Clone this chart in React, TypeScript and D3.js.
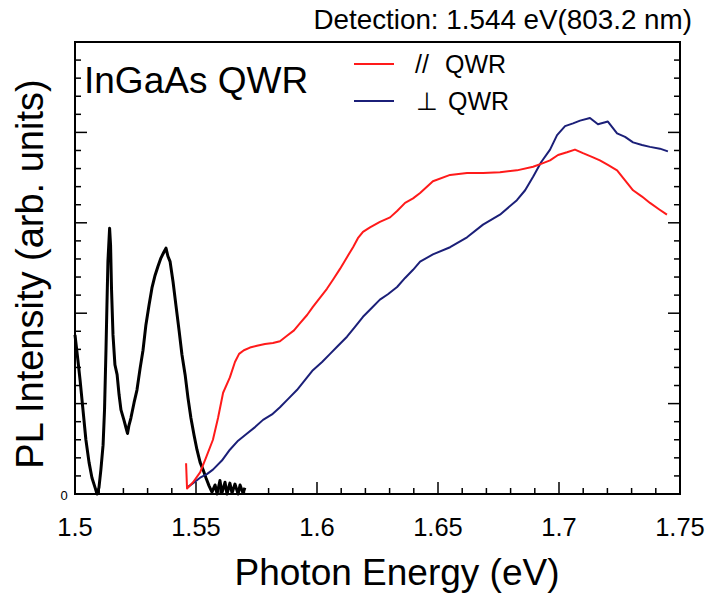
import React from "react";
import * as d3 from "d3";

const blackE = [1.5,1.5012,1.5021,1.5033,1.5045,1.5058,1.507,1.5083,1.5091,1.5099,1.5107,1.5116,1.5122,1.5128,1.5132,1.5136,1.5143,1.5147,1.5151,1.5157,1.5165,1.5174,1.5182,1.519,1.5202,1.5211,1.5217,1.5223,1.5231,1.5244,1.5256,1.5269,1.5281,1.5293,1.5306,1.5318,1.5331,1.5343,1.5355,1.5368,1.5376,1.5384,1.5393,1.5405,1.5417,1.543,1.5442,1.5455,1.5467,1.5479,1.5492,1.5504,1.5517,1.5529,1.5541,1.5554,1.5566,1.5579,1.5587,1.5599,1.5607,1.562,1.5628,1.564,1.5649,1.5661,1.5674,1.5682,1.5694,1.5702];
const blackI = [1.76,1.48,1.26,0.93,0.6,0.35,0.18,0.07,0.0,0.07,0.27,0.54,0.93,1.59,2.09,2.57,2.94,2.75,2.26,1.76,1.43,1.32,1.1,0.93,0.82,0.73,0.67,0.76,0.84,1.01,1.15,1.39,1.59,1.87,2.09,2.28,2.42,2.52,2.61,2.68,2.72,2.63,2.57,2.35,2.09,1.81,1.54,1.32,1.06,0.84,0.65,0.49,0.35,0.27,0.18,0.09,0.02,0.1,0.0,0.15,0.01,0.13,0.0,0.12,0.01,0.11,0.0,0.1,0.01,0.07];

const redE = [1.5459,1.5463,1.5488,1.5517,1.5541,1.557,1.5591,1.5612,1.564,1.5661,1.5678,1.5698,1.5723,1.5752,1.5785,1.5818,1.5847,1.5876,1.5905,1.593,1.5959,1.5983,1.6012,1.6041,1.6066,1.6095,1.6124,1.6149,1.6169,1.619,1.6219,1.626,1.6302,1.6331,1.6364,1.6397,1.6426,1.6479,1.655,1.662,1.6686,1.6756,1.6826,1.6893,1.6934,1.6963,1.6996,1.7033,1.7066,1.7099,1.7136,1.7169,1.7202,1.724,1.7273,1.7306,1.7343,1.7376,1.7413,1.7446];
const redI = [0.34,0.06,0.13,0.24,0.4,0.6,0.84,1.12,1.29,1.46,1.55,1.59,1.62,1.64,1.66,1.67,1.69,1.75,1.81,1.89,1.98,2.07,2.17,2.27,2.37,2.49,2.62,2.73,2.83,2.9,2.95,3.01,3.06,3.13,3.22,3.27,3.33,3.46,3.53,3.55,3.55,3.56,3.58,3.62,3.66,3.69,3.75,3.78,3.81,3.77,3.73,3.69,3.64,3.58,3.47,3.36,3.29,3.22,3.15,3.09];

const blueE = [1.5463,1.5488,1.5517,1.5545,1.557,1.5607,1.564,1.5674,1.5711,1.5744,1.5777,1.5814,1.5847,1.588,1.5917,1.595,1.5983,1.6021,1.6054,1.6087,1.6124,1.6157,1.619,1.6227,1.626,1.6293,1.6331,1.6364,1.6397,1.6426,1.6479,1.655,1.662,1.6686,1.6756,1.6826,1.686,1.6893,1.6926,1.6963,1.6992,1.7025,1.7058,1.7087,1.7128,1.7161,1.7202,1.724,1.7273,1.7306,1.7343,1.7376,1.7417,1.745];
const blueI = [0.07,0.12,0.18,0.22,0.27,0.37,0.49,0.59,0.67,0.74,0.82,0.88,0.96,1.05,1.15,1.26,1.37,1.46,1.55,1.64,1.74,1.85,1.96,2.06,2.15,2.21,2.29,2.39,2.48,2.57,2.65,2.73,2.84,2.98,3.09,3.25,3.36,3.51,3.67,3.81,3.97,4.07,4.1,4.13,4.16,4.09,4.12,3.99,3.95,3.89,3.86,3.84,3.82,3.79];

const xTickLabels = ["1.5", "1.55", "1.6", "1.65", "1.7", "1.75"];
const xTickValues = [1.5, 1.55, 1.6, 1.65, 1.7, 1.75];

const W = 707, H = 598;
const L = 75, R = 680, T = 42, B = 494;

export default function App() {
  const x = d3.scaleLinear().domain([1.5, 1.75]).range([L, R]);
  const y = d3.scaleLinear().domain([0, 5]).range([B, T]);
  const line = d3.line<[number, number]>().x(d => x(d[0])).y(d => y(d[1]));
  const mk = (e: number[], v: number[]) => line(e.map((ee, i) => [ee, v[i]] as [number, number])) || "";
  const xMinor = d3.range(0, 26).map(i => 1.5 + i * 0.01);
  const yMinor = d3.range(0, 26).map(i => i * 0.2);
  const font = "'Liberation Sans', Arial, sans-serif";
  return (
    <svg width={W} height={H} style={{ position: "absolute", left: 0, top: 0, background: "#fff" }} fontFamily={font}>
      <rect x={L} y={T} width={R - L} height={B - T} fill="none" stroke="#000" strokeWidth={2} />
      {xMinor.map((t, i) => {
        const major = i % 5 === 0;
        return <line key={"xt" + i} x1={x(t)} x2={x(t)} y1={B} y2={B - (major ? 12 : 6)} stroke="#000" strokeWidth={1.5} />;
      })}
      {yMinor.map((t, i) => {
        const major = i % 5 === 0;
        const len = major ? 12 : 6;
        return (
          <g key={"yt" + i}>
            <line x1={L} x2={L + len} y1={y(t)} y2={y(t)} stroke="#000" strokeWidth={1.5} />
            <line x1={R} x2={R - len} y1={y(t)} y2={y(t)} stroke="#000" strokeWidth={1.5} />
          </g>
        );
      })}
      {xTickValues.map((t, i) => (
        <text key={"xl" + i} x={x(t)} y={536} textAnchor="middle" fontSize={25.5}>{xTickLabels[i]}</text>
      ))}
      <text x={64} y={500} fontSize={13} textAnchor="middle">0</text>
      <text x={397} y={585} textAnchor="middle" fontSize={37}>Photon Energy (eV)</text>
      <text transform={`translate(43, 274) rotate(-90)`} textAnchor="middle" fontSize={38}>PL Intensity (arb. units)</text>
      <text x={692} y={29} textAnchor="end" fontSize={27.8}>Detection: 1.544 eV(803.2 nm)</text>
      <text x={84} y={93} fontSize={37}>InGaAs QWR</text>
      <line x1={354} x2={394} y1={64} y2={64} stroke="#ff1a1a" strokeWidth={2} />
      <text x={415} y={73} fontSize={25}>//</text>
      <text x={445} y={73} fontSize={25}>QWR</text>
      <line x1={354} x2={394} y1={101} y2={101} stroke="#1b1f78" strokeWidth={2} />
      <text x={416} y={110} fontSize={25}>⊥</text>
      <text x={448} y={110} fontSize={25}>QWR</text>
      <path d={mk(blackE, blackI)} fill="none" stroke="#000" strokeWidth={3} strokeLinejoin="round" />
      <path d={mk(blueE, blueI)} fill="none" stroke="#1b1f78" strokeWidth={2} strokeLinejoin="round" />
      <path d={mk(redE, redI)} fill="none" stroke="#ff1a1a" strokeWidth={2} strokeLinejoin="round" />
    </svg>
  );
}
